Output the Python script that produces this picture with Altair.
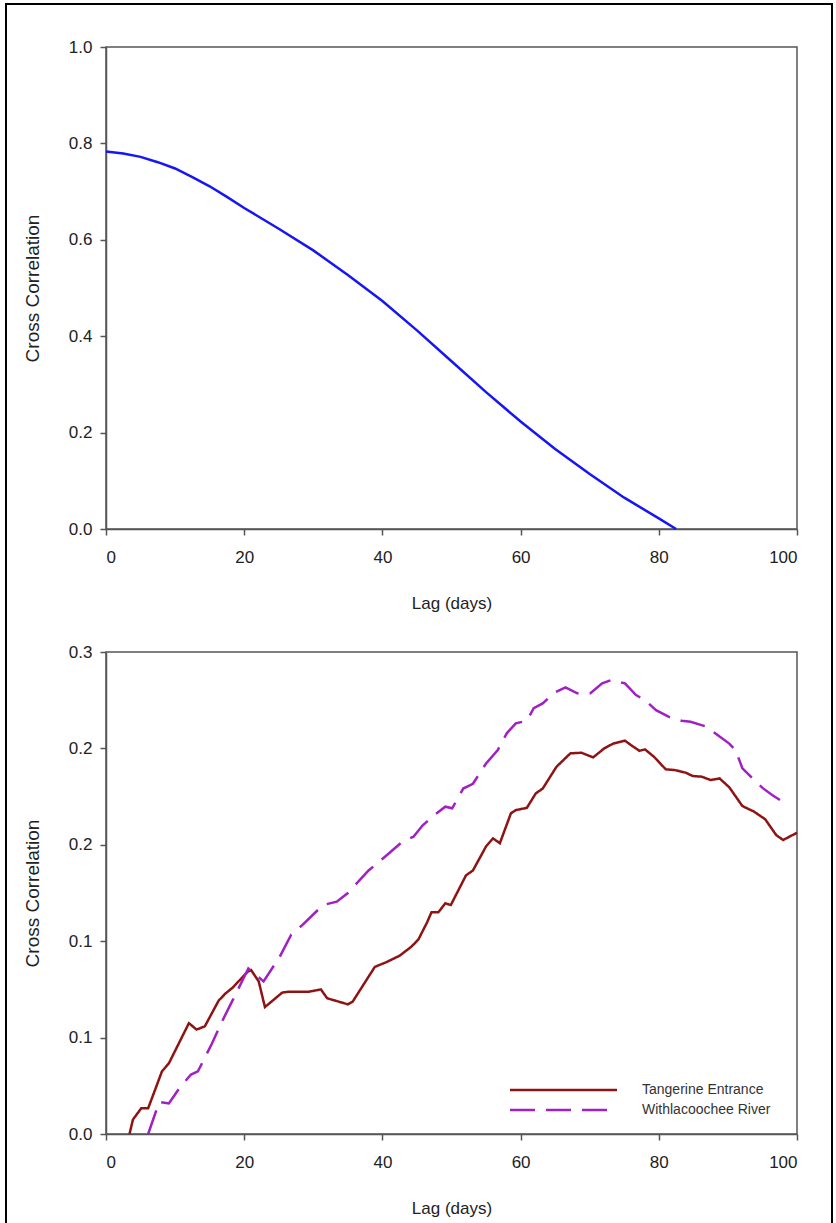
import altair as alt
import pandas as pd

FONT = "Liberation Sans"

# ---------------- top panel ----------------
lag_top = [0, 2.5, 5, 7.5, 10, 12.5, 15, 17.5, 20, 25, 30, 35, 40, 45, 50, 55, 60, 65, 70, 75, 80, 82.5]
cc_top = [0.783, 0.779, 0.772, 0.761, 0.748, 0.730, 0.711, 0.689, 0.666, 0.623, 0.578, 0.527,
          0.473, 0.412, 0.348, 0.284, 0.223, 0.166, 0.114, 0.065, 0.022, 0.0]

# ---------------- bottom panel ----------------
lag_tang = [3.4, 3.9, 5.1, 6.1, 8.1, 9.1, 12.0, 13.1, 14.3, 16.3, 17.3, 18.3, 20.5, 21.0, 22.1, 23.0,
            25.5, 26.5, 29.4, 31.1, 32.0, 35.0, 35.7, 38.9, 40.6, 42.5, 44.2, 45.2, 46.5, 47.1, 48.1,
            49.1, 49.9, 52.1, 53.1, 55.0, 56.0, 57.0, 58.6, 59.3, 60.9, 62.2, 63.2, 65.2, 67.2, 68.8,
            70.5, 72.1, 73.4, 75.1, 76.0, 77.2, 78.0, 79.3, 81.0, 82.3, 83.9, 84.9, 86.2, 87.5, 88.8,
            90.2, 92.1, 93.8, 95.4, 97.0, 98.0, 100.0]
cc_tang = [0.0, 0.009, 0.016, 0.016, 0.039, 0.044, 0.069, 0.065, 0.067, 0.083, 0.0875, 0.091, 0.101,
           0.102, 0.095, 0.079, 0.088, 0.0886, 0.0886, 0.090, 0.0845, 0.0807, 0.0824, 0.104, 0.107,
           0.111, 0.1166, 0.121, 0.132, 0.138, 0.138, 0.1436, 0.1425, 0.161, 0.164, 0.179, 0.184,
           0.181, 0.1996, 0.2016, 0.203, 0.212, 0.215, 0.2286, 0.2369, 0.2373, 0.2344, 0.240, 0.243,
           0.2448, 0.242, 0.2385, 0.2394, 0.2348, 0.227, 0.2265, 0.2249, 0.2228, 0.2224, 0.2203,
           0.2213, 0.2158, 0.2041, 0.2006, 0.1959, 0.186, 0.183, 0.1875]

lag_with = [6.1, 7.7, 9.1, 10.7, 12.3, 13.3, 15.3, 16.9, 18.3, 20.6, 22.8, 25.1, 26.8, 28.4, 31.4,
            33.4, 35.0, 38.0, 40.5, 42.9, 44.5, 45.8, 47.5, 49.1, 50.1, 51.7, 53.1, 55.0, 56.7, 58.0,
            59.3, 60.9, 61.9, 63.2, 64.9, 66.5, 68.2, 70.1, 71.8, 73.1, 75.1, 76.7, 78.0, 79.6, 81.6,
            83.3, 84.6, 86.9, 88.5, 90.2, 91.1, 92.1, 93.8, 95.1, 96.4, 98.7]
cc_with = [0.0, 0.020, 0.019, 0.029, 0.037, 0.039, 0.056, 0.071, 0.083, 0.103, 0.095, 0.110, 0.124,
           0.130, 0.1425, 0.1446, 0.150, 0.164, 0.173, 0.182, 0.185, 0.192, 0.1985, 0.2037, 0.2027,
           0.215, 0.218, 0.2306, 0.239, 0.2494, 0.2556, 0.2572, 0.265, 0.268, 0.2747, 0.278, 0.2743,
           0.2743, 0.2805, 0.2825, 0.2805, 0.2732, 0.270, 0.2638, 0.2593, 0.2572, 0.2566, 0.2535,
           0.2483, 0.243, 0.239, 0.2276, 0.2203, 0.2151, 0.211, 0.2047]

series_names = ["Tangerine Entrance", "Withlacoochee River"]
series_colors = ["#8E1414", "#A020C4"]
series_dashes = [[1, 0], [25, 11]]

x_ticks = [0, 20, 40, 60, 80, 100]
y_ticks_top = [0.0, 0.2, 0.4, 0.6, 0.8, 1.0]
y_ticks_bot = [0.0, 0.06, 0.12, 0.18, 0.24, 0.30]

W, H = 691, 482

top_df = pd.DataFrame({"lag": lag_top, "cc": cc_top})
bot_df = pd.concat([
    pd.DataFrame({"lag": lag_tang, "cc": cc_tang, "series": series_names[0]}),
    pd.DataFrame({"lag": lag_with, "cc": cc_with, "series": series_names[1]}),
])

color_scale = alt.Scale(domain=series_names, range=series_colors)
dash_scale = alt.Scale(domain=series_names, range=series_dashes)


def x_enc():
    return alt.X("lag:Q", scale=alt.Scale(domain=[0, 100], nice=False),
                 axis=alt.Axis(values=x_ticks, title="Lag (days)", format="d"))


top_line = alt.Chart(top_df).mark_line(color="#1515F5", strokeWidth=2.5).encode(
    x=x_enc(),
    y=alt.Y("cc:Q", scale=alt.Scale(domain=[0, 1], nice=False),
            axis=alt.Axis(values=y_ticks_top, format=".1f", title="Cross Correlation")),
)

border = alt.Chart(pd.DataFrame({"k": [0]})).mark_rect(
    fillOpacity=0, stroke="black", strokeWidth=2
).encode(
    x=alt.value(-100), x2=alt.value(726), y=alt.value(-43), y2=alt.value(1184)
)

top = alt.layer(border, top_line).properties(width=W, height=H)

bottom_lines = alt.Chart(bot_df).mark_line(strokeWidth=2.5).encode(
    x=x_enc(),
    y=alt.Y("cc:Q", scale=alt.Scale(domain=[0, 0.3], nice=False),
            axis=alt.Axis(values=y_ticks_bot, format=".1f", title="Cross Correlation")),
    color=alt.Color("series:N", scale=color_scale, legend=None),
    strokeDash=alt.StrokeDash("series:N", scale=dash_scale, legend=None),
)

# hand-drawn legend (lower right of bottom panel)
legend_layers = []
legend_ends = [511, 501]
for i, name in enumerate(series_names):
    row_df = pd.DataFrame({"series": [name]})
    ypix = 438 + 20 * i
    legend_layers.append(
        alt.Chart(row_df).mark_rule(strokeWidth=2.5).encode(
            x=alt.value(404), x2=alt.value(legend_ends[i]), y=alt.value(ypix),
            color=alt.Color("series:N", scale=color_scale, legend=None),
            strokeDash=alt.StrokeDash("series:N", scale=dash_scale, legend=None),
        )
    )
    legend_layers.append(
        alt.Chart(row_df).mark_text(align="left", baseline="middle", font=FONT, fontSize=14,
                                    color="#333333").encode(
            x=alt.value(536), y=alt.value(ypix), text="series:N"
        )
    )

bottom = alt.layer(bottom_lines, *legend_layers).properties(width=W, height=H)

chart = alt.vconcat(top, bottom, spacing=123, bounds="flush").properties(
    padding={"left": 4, "top": 2, "right": 0, "bottom": 0},
    background="white",
).configure_view(
    stroke="#555555", strokeWidth=1.5
).configure_axis(
    labelFont=FONT, labelFontSize=17, labelColor="#222222",
    titleFont=FONT, titleFontSize=17, titleFontWeight="normal", titleColor="#222222",
    domainColor="#555555", domainWidth=1.5, tickColor="#555555", tickWidth=1.5, tickSize=6,
    grid=False,
).configure_axisY(titlePadding=26, labelPadding=8, titleFontSize=19).configure_axisX(
    titlePadding=30, labelPadding=14)

chart.save("out.html", embed_options={"renderer": "svg", "actions": False})
